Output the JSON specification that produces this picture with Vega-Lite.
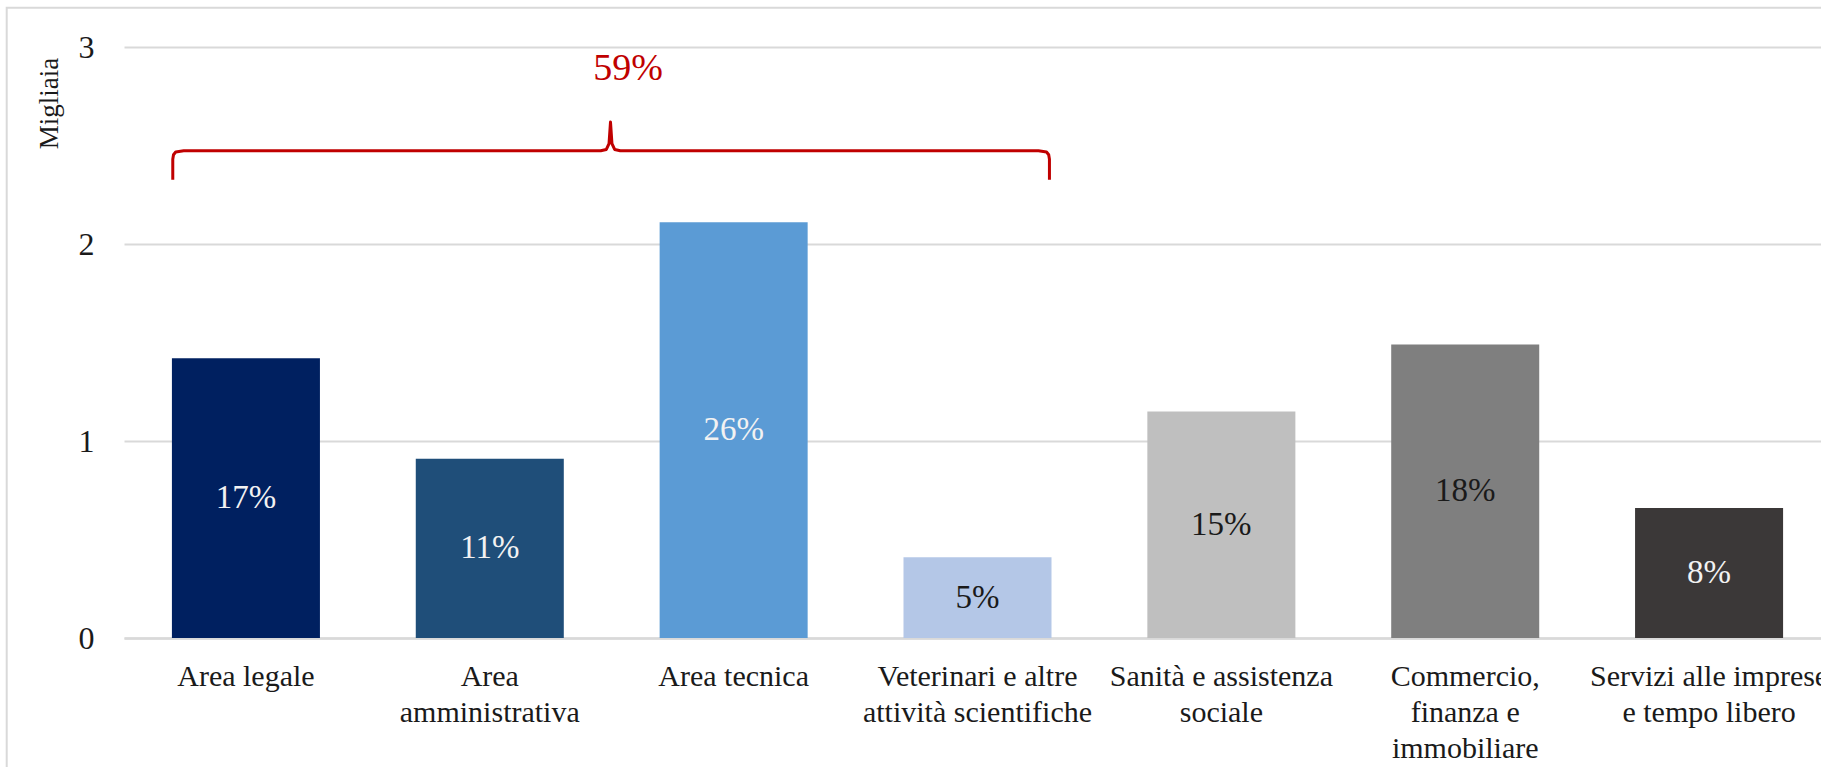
{
  "$schema": "https://vega.github.io/schema/vega-lite/v6.json",
  "width": 1697,
  "height": 591,
  "autosize": {"type": "none"},
  "padding": {"left": 124, "top": 47, "right": 0, "bottom": 129},
  "background": "white",
  "config": {"view": {"stroke": null}, "font": "Liberation Serif"},
  "data": {
    "values": [
      {"cat": "Area legale", "value": 1.42, "pct": "17%"},
      {"cat": "Area|amministrativa", "value": 0.91, "pct": "11%"},
      {"cat": "Area tecnica", "value": 2.11, "pct": "26%"},
      {"cat": "Veterinari e altre|attività scientifiche", "value": 0.41, "pct": "5%"},
      {"cat": "Sanità e assistenza|sociale", "value": 1.15, "pct": "15%"},
      {"cat": "Commercio,|finanza e|immobiliare", "value": 1.49, "pct": "18%"},
      {"cat": "Servizi alle imprese|e tempo libero", "value": 0.66, "pct": "8%"}
    ]
  },
  "resolve": {"scale": {"x": "independent"}, "axis": {"x": "independent"}},
  "layer": [
    {
      "data": {"values": [{"pos": -0.481, "pos2": 7.6, "value": 3.199, "value2": -0.8}]},
      "mark": {"type": "rect", "fill": "transparent", "stroke": "#d9d9d9", "strokeWidth": 2},
      "encoding": {
        "x": {"field": "pos", "type": "quantitative", "scale": {"domain": [0, 7], "range": [0, 1707], "nice": false, "zero": false}, "axis": null},
        "x2": {"field": "pos2"},
        "y": {"field": "value", "type": "quantitative", "scale": {"domain": [0, 3]}},
        "y2": {"field": "value2"}
      }
    },
    {
      "mark": {"type": "bar"},
      "encoding": {
        "x": {
          "field": "cat", "type": "nominal", "sort": null,
          "scale": {"range": [0, 1707], "paddingInner": 0.393, "paddingOuter": 0.1965},
          "axis": {
            "title": null, "labelExpr": "split(datum.label, '|')", "labelAngle": 0,
            "labelFont": "Liberation Serif", "labelFontSize": 30, "labelColor": "#1a1a1a",
            "labelLineHeight": 36, "labelBaseline": "alphabetic", "labelPadding": 47,
            "ticks": false, "tickSize": 0, "domainColor": "#d9d9d9", "domainWidth": 2.5,
            "labelLimit": 1000, "labelOverlap": false, "labelBound": false, "grid": false
          }
        },
        "y": {
          "field": "value", "type": "quantitative", "scale": {"domain": [0, 3]},
          "axis": {
            "title": "Migliaia", "values": [0, 1, 2, 3], "format": "d", "grid": true,
            "gridColor": "#d9d9d9", "gridWidth": 2, "domain": false, "ticks": false, "tickSize": 0,
            "labelFont": "Liberation Serif", "labelFontSize": 32, "labelColor": "#1a1a1a", "labelPadding": 30,
            "titleFont": "Liberation Serif", "titleFontSize": 27, "titleFontWeight": "normal", "titleColor": "#1a1a1a",
            "titleAngle": -90, "titleX": -75, "titleY": 56, "titleAlign": "center", "titleBaseline": "middle"
          }
        },
        "color": {
          "field": "cat", "type": "nominal", "sort": null, "legend": null,
          "scale": {
            "domain": ["Area legale", "Area|amministrativa", "Area tecnica", "Veterinari e altre|attività scientifiche", "Sanità e assistenza|sociale", "Commercio,|finanza e|immobiliare", "Servizi alle imprese|e tempo libero"],
            "range": ["#002060", "#1F4E79", "#5B9BD5", "#B4C7E7", "#BFBFBF", "#7F7F7F", "#3B3838"]
          }
        }
      }
    },
    {
      "mark": {"type": "text", "fontSize": 33, "baseline": "middle", "font": "Liberation Serif"},
      "encoding": {
        "x": {"field": "cat", "type": "nominal", "sort": null, "scale": {"range": [0, 1707], "paddingInner": 0.393, "paddingOuter": 0.1965}, "axis": null},
        "y": {"field": "value", "type": "quantitative", "stack": "zero", "bandPosition": 0.5, "scale": {"domain": [0, 3]}},
        "detail": {"field": "pct"},
        "text": {"field": "pct"},
        "color": {
          "condition": {"test": "indexof(['Veterinari e altre|attività scientifiche', 'Sanità e assistenza|sociale', 'Commercio,|finanza e|immobiliare'], datum.cat) >= 0", "value": "#1a1a1a"},
          "value": "#f2f2f2"
        }
      }
    },
    {
      "data": {
        "values": [
          {"i": 0, "pos": 0.2, "value": 2.326},
          {"i": 1, "pos": 0.2, "value": 2.43},
          {"i": 2, "pos": 0.203, "value": 2.453},
          {"i": 3, "pos": 0.212, "value": 2.467},
          {"i": 4, "pos": 0.245, "value": 2.473},
          {"i": 5, "pos": 1.955, "value": 2.473},
          {"i": 6, "pos": 1.978, "value": 2.48},
          {"i": 7, "pos": 1.989, "value": 2.51},
          {"i": 8, "pos": 1.995, "value": 2.619},
          {"i": 9, "pos": 2.001, "value": 2.51},
          {"i": 10, "pos": 2.012, "value": 2.48},
          {"i": 11, "pos": 2.035, "value": 2.473},
          {"i": 12, "pos": 3.75, "value": 2.473},
          {"i": 13, "pos": 3.783, "value": 2.467},
          {"i": 14, "pos": 3.792, "value": 2.453},
          {"i": 15, "pos": 3.795, "value": 2.43},
          {"i": 16, "pos": 3.795, "value": 2.326}
        ]
      },
      "mark": {"type": "line", "color": "#C00000", "strokeWidth": 3, "strokeJoin": "round"},
      "encoding": {
        "x": {"field": "pos", "type": "quantitative", "scale": {"domain": [0, 7], "range": [0, 1707], "nice": false, "zero": false}, "axis": null},
        "y": {"field": "value", "type": "quantitative", "scale": {"domain": [0, 3]}},
        "order": {"field": "i"}
      }
    },
    {
      "data": {"values": [{"pos": 2.067, "value": 2.889, "t": "59%"}]},
      "mark": {"type": "text", "fontSize": 38, "color": "#C00000", "baseline": "middle", "font": "Liberation Serif"},
      "encoding": {
        "x": {"field": "pos", "type": "quantitative", "scale": {"domain": [0, 7], "range": [0, 1707], "nice": false, "zero": false}, "axis": null},
        "y": {"field": "value", "type": "quantitative", "scale": {"domain": [0, 3]}},
        "text": {"field": "t"}
      }
    }
  ]
}
